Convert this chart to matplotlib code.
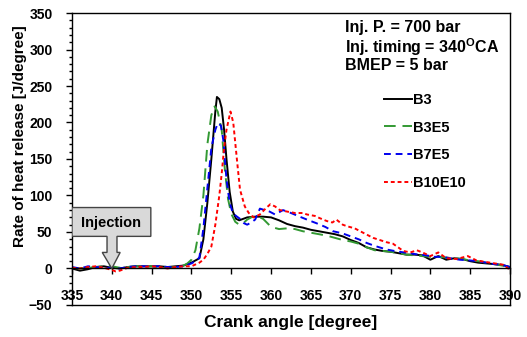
import matplotlib
matplotlib.use("Agg")
import matplotlib.pyplot as plt
from matplotlib.patches import Polygon
from matplotlib.ticker import MultipleLocator

plt.rcParams["font.family"] = ["Liberation Sans", "DejaVu Sans"]
plt.rcParams["font.weight"] = "bold"
plt.rcParams["mathtext.fontset"] = "custom"
plt.rcParams["mathtext.bf"] = "Liberation Sans:bold"
plt.rcParams["mathtext.rm"] = "Liberation Sans:bold"

# Heat release rate traces [J/degree] against crank angle [degree]
b3_ca = [335, 336, 337, 338, 339, 340, 341, 342, 343, 344, 345, 346, 347, 348, 349, 350,
         350.5, 351, 351.5, 352, 352.5, 353, 353.2, 353.5, 353.8, 354.1, 354.4, 354.8,
         355.2, 355.6, 356, 356.5, 357, 358, 359, 360, 361, 362, 363, 364, 365, 366, 367,
         368, 369, 370, 371, 372, 373, 374, 375, 376, 377, 378, 379, 380, 381, 382, 383,
         384, 385, 386, 387, 388, 389, 390]
b3_hrr = [0, -3, -1, 2, 3, 1, 0, 2, 3, 3, 3, 3, 2, 3, 4, 8,
          11, 14, 40, 90, 150, 215, 235, 232, 220, 190, 150, 105,
          78, 68, 66, 68, 70, 71, 71, 70, 66, 61, 58, 56, 53, 51, 49,
          47, 44, 39, 35, 29, 26, 24, 23, 21, 19, 19, 18, 12, 17, 12, 14,
          13, 10, 8, 7, 6, 5, 2]

b3e5_ca = [335, 336, 337, 338, 339, 340, 341, 342, 343, 344, 345, 346, 347, 348, 349, 349.5,
           350, 350.5, 351, 351.5, 352, 352.5, 352.9, 353.3, 353.8, 354.2, 354.6, 355,
           355.5, 356, 356.5, 357, 357.5, 358.2, 359, 360, 361, 362, 363, 364, 365, 366,
           367, 368, 369, 370, 371, 372, 373, 374, 375, 376, 377, 378, 379, 380, 381, 382,
           383, 384, 385, 386, 387, 388, 389, 390]
b3e5_hrr = [1, 0, 1, 2, 3, 3, 1, 2, 3, 3, 3, 2, 1, 2, 4, 7,
            12, 25, 55, 100, 170, 210, 222, 215, 190, 135, 95, 75,
            64, 60, 62, 67, 70, 72, 68, 57, 54, 55, 54, 51, 49, 47,
            45, 42, 39, 37, 34, 29, 25, 24, 23, 21, 19, 18, 17, 16, 16, 15,
            14, 13, 11, 10, 8, 6, 4, 2]

b7e5_ca = [335, 336, 337, 338, 339, 340, 341, 342, 343, 344, 345, 346, 347, 348, 349, 350,
           350.5, 351, 351.5, 352, 352.5, 353, 353.3, 353.7, 354, 354.4, 354.8, 355.2,
           355.6, 356.1, 356.6, 357, 357.5, 358, 358.6, 359.2, 359.8, 360.5, 361.5, 362.5,
           363.6, 364.5, 365.7, 366.8, 367.8, 369, 370, 371, 372, 373, 374.5, 376, 377.4,
           378.5, 379.5, 380.5, 381.5, 382.5, 383.7, 385, 386, 387, 388, 389, 390]
b7e5_hrr = [2, 0, 3, 2, 1, 1, 0, 2, 3, 3, 3, 3, 2, 2, 3, 7,
            10, 15, 55, 110, 165, 190, 199, 196, 176, 122, 90, 76,
            72, 68, 62, 60, 63, 67, 82, 80, 78, 74, 80, 76,
            71, 67, 62, 57, 51, 48, 44, 40, 35, 31, 26, 23, 21,
            19, 18, 16, 16, 14, 12, 11, 10, 8, 6, 5, 2]

b10e10_ca = [335, 336, 337, 338, 339, 340, 340.5, 341, 342, 343, 344, 345, 346, 347, 348,
             349, 350, 351, 351.5, 352, 352.5, 353, 353.5, 353.8, 354.1, 354.4, 354.9,
             355.25, 355.75, 356.1, 356.7, 357.2, 357.8, 358.6, 359.3, 359.9, 360.5, 361.1,
             362, 363, 364, 364.5, 365.5, 366.1, 367, 367.7, 368.2, 369, 369.5, 370.5,
             371.2, 372.8, 374.5, 375.3, 376.6, 377.5, 378.3, 379, 380, 381, 382, 383.3,
             384.7, 385.8, 387.5, 389.2, 390]
b10e10_hrr = [1, 0, 2, 3, 1, -2, -4, -3, 1, 2, 2, 3, 2, 0, 2,
              3, 3, 8, 12, 20, 30, 60, 100, 130, 165, 190, 215,
              200, 145, 108, 85, 76, 70, 74, 82, 88, 85, 80,
              78, 76, 76, 74, 72, 69, 65, 63, 67, 60, 58, 55,
              51, 42, 36, 34, 24, 22, 25, 22, 17, 22, 14, 13,
              17, 11, 8, 5, -2]

x_ticks = [335, 340, 345, 350, 355, 360, 365, 370, 375, 380, 385, 390]
y_ticks = [-50, 0, 50, 100, 150, 200, 250, 300, 350]

fig = plt.figure(figsize=(5.27, 3.37), dpi=100)
ax = fig.add_axes([0.1366, 0.095, 0.8311, 0.8664])

ax.plot(b3_ca, b3_hrr, color="black", lw=1.4, label="B3")
ax.plot(b3e5_ca, b3e5_hrr, color="#339933", lw=1.4, dashes=(6, 3.5), label="B3E5")
ax.plot(b7e5_ca, b7e5_hrr, color="#0000ee", lw=1.4, dashes=(3.5, 2.5), label="B7E5")
ax.plot(b10e10_ca, b10e10_hrr, color="#ff0000", lw=1.4, dashes=(2, 1.5), label="B10E10")

ax.set_xlim(335, 390)
ax.set_ylim(-50, 350)
ax.set_xticks(x_ticks)
ax.set_yticks(y_ticks)
ax.yaxis.set_minor_locator(MultipleLocator(10))

# x axis sits on the zero line, frame closed at the bottom separately
ax.spines["bottom"].set_position(("data", 0))
ax.axhline(-50, color="black", lw=1.0, clip_on=False)
for side in ["left", "right", "top", "bottom"]:
    ax.spines[side].set_linewidth(1.0)

ax.tick_params(axis="x", direction="out", length=4, width=1, pad=11, labelsize=10)
ax.tick_params(axis="y", which="major", direction="out", length=4, width=1, pad=10, labelsize=10)
ax.tick_params(axis="y", which="minor", direction="out", length=2.5, width=1)
for lab in ax.get_xticklabels() + ax.get_yticklabels():
    lab.set_fontweight("bold")

ax.set_xlabel("Crank angle [degree]", fontsize=12.5, fontweight="bold", labelpad=0)
ax.xaxis.set_label_coords(0.5, -0.035)
ax.set_ylabel("Rate of heat release [J/degree]", fontsize=11, fontweight="bold")
ax.yaxis.set_label_coords(-0.103, 0.579)

ax.text(0.623, 0.975, "Inj. P. = 700 bar\nInj. timing = 340$^{\\mathbf{O}}$CA\nBMEP = 5 bar",
        transform=ax.transAxes, ha="left", va="top", fontsize=11.5, fontweight="bold",
        linespacing=1.05)

ax.legend(loc="upper left", bbox_to_anchor=(0.683, 0.772), frameon=False, fontsize=10.5,
          handlelength=1.9, handletextpad=0.1, labelspacing=0.95)

# injection callout pointing at 340 deg
box_left, box_right, box_top, box_bottom = 335.0, 344.9, 83.5, 44.0
shaft_l, shaft_r, head_l, head_r, head_y = 339.4, 340.65, 338.8, 341.05, 22.0
callout = Polygon([(box_left, box_top), (box_right, box_top), (box_right, box_bottom),
                   (shaft_r, box_bottom), (shaft_r, head_y), (head_r, head_y), (340, 0),
                   (head_l, head_y), (shaft_l, head_y), (shaft_l, box_bottom),
                   (box_left, box_bottom)],
                  closed=True, facecolor="#d9d9d9", edgecolor="#444444", lw=1.0, zorder=3)
ax.add_patch(callout)
ax.text(339.9, 63, "Injection", ha="center", va="center", fontsize=10.5, fontweight="bold",
        zorder=4)

fig.savefig("out.png", dpi=100)
